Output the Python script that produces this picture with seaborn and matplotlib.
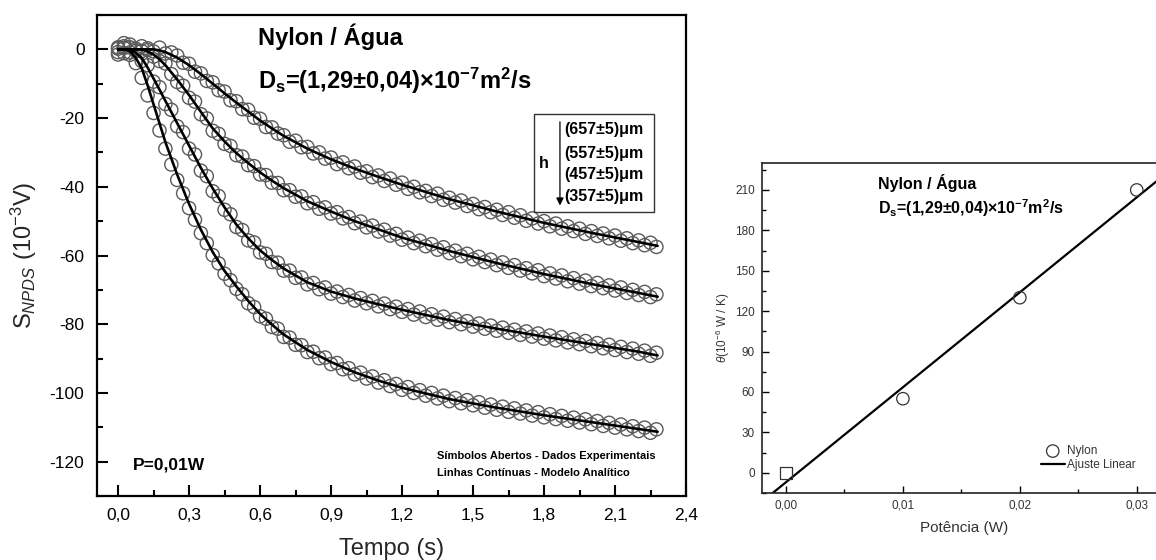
import numpy as np
import pandas as pd
import matplotlib
matplotlib.use("Agg")
import matplotlib.pyplot as plt
from matplotlib.ticker import MultipleLocator, FuncFormatter
from matplotlib.patches import Rectangle
import seaborn as sns

# ---------------- data ----------------
t_exp = np.round(np.arange(92) * 0.025, 3)

s_657 = [0.2, 1.8, 0.6, -0.4, 0.9, 0.3, -0.6, 0.5, -1.2, -0.9,
         -1.8, -3.9, -4.2, -6.5, -7.0, -9.2, -9.6, -11.9, -12.3, -14.8,
         -15.1, -17.4, -17.6, -19.9, -20.2, -22.6, -22.7, -24.5, -25.0, -26.9,
         -26.6, -28.5, -28.4, -30.3, -30.0, -31.8, -31.5, -33.4, -32.9, -34.6,
         -34.1, -35.9, -35.5, -37.2, -36.7, -38.3, -37.6, -39.4, -38.8, -40.6,
         -40.0, -41.6, -41.2, -42.7, -42.0, -43.8, -43.2, -44.6, -44.0, -45.6,
         -45.0, -46.5, -45.9, -47.4, -46.7, -48.2, -47.4, -49.0, -48.3, -49.9,
         -49.2, -50.7, -50.0, -51.5, -50.7, -52.2, -51.5, -52.9, -52.2, -53.7,
         -52.9, -54.3, -53.6, -55.0, -54.2, -55.7, -55.0, -56.4, -55.6, -57.0,
         -56.3, -57.5]
s_557 = [-0.8, 0.9, 1.4, 0.2, -0.5, -0.2, -2.1, -3.4, -4.1, -7.2,
         -9.5, -10.6, -14.1, -15.2, -18.9, -20.1, -23.7, -24.6, -27.5, -28.1,
         -30.8, -31.2, -33.7, -34.0, -36.4, -36.6, -38.8, -38.9, -41.0, -41.0,
         -42.9, -42.8, -44.8, -44.5, -46.4, -46.0, -47.8, -47.4, -49.2, -48.8,
         -50.6, -50.1, -51.8, -51.3, -53.0, -52.5, -54.2, -53.7, -55.4, -54.8,
         -56.4, -55.7, -57.3, -56.7, -58.3, -57.6, -59.3, -58.6, -60.2, -59.5,
         -61.1, -60.4, -61.9, -61.2, -62.8, -62.0, -63.6, -62.8, -64.4, -63.7,
         -65.2, -64.3, -66.0, -65.2, -66.7, -65.8, -67.5, -66.6, -68.2, -67.3,
         -68.9, -68.0, -69.5, -68.7, -70.2, -69.3, -70.9, -70.0, -71.5, -70.6,
         -72.1, -71.3]
s_457 = [-1.5, 0.4, -0.9, -0.3, -3.4, -4.6, -9.4, -11.0, -15.9, -17.6,
         -22.4, -24.1, -28.9, -30.6, -35.3, -36.9, -41.3, -42.7, -46.7, -48.0,
         -51.7, -52.6, -55.6, -56.2, -59.1, -59.5, -61.9, -62.1, -64.4, -64.4,
         -66.5, -66.4, -68.4, -68.0, -69.8, -69.3, -71.1, -70.5, -72.1, -71.5,
         -73.1, -72.4, -73.9, -73.2, -74.8, -74.0, -75.6, -74.9, -76.4, -75.6,
         -77.2, -76.3, -77.9, -77.1, -78.7, -77.8, -79.4, -78.5, -80.0, -79.1,
         -80.7, -79.8, -81.3, -80.4, -81.9, -81.0, -82.5, -81.6, -83.1, -82.1,
         -83.6, -82.7, -84.2, -83.3, -84.7, -83.8, -85.3, -84.4, -85.8, -84.9,
         -86.4, -85.5, -87.0, -86.0, -87.5, -86.6, -88.1, -87.1, -88.6, -87.7,
         -89.2, -88.3]
s_357 = [0.6, -1.1, -1.6, -4.0, -8.3, -13.4, -18.5, -23.6, -28.9, -33.5,
         -38.0, -41.9, -46.2, -49.6, -53.5, -56.4, -59.9, -62.3, -65.3, -67.2,
         -69.7, -71.3, -73.9, -75.0, -77.7, -78.4, -80.8, -81.3, -83.7, -83.9,
         -86.0, -86.1, -88.1, -88.0, -89.9, -89.7, -91.6, -91.3, -93.1, -92.8,
         -94.6, -94.1, -95.8, -95.2, -97.0, -96.3, -98.0, -97.4, -99.1, -98.3,
         -100.0, -99.2, -100.8, -100.0, -101.6, -100.8, -102.4, -101.5, -103.0, -102.1,
         -103.6, -102.7, -104.3, -103.4, -104.9, -104.0, -105.5, -104.5, -106.0, -105.1,
         -106.6, -105.6, -107.1, -106.2, -107.6, -106.7, -108.1, -107.2, -108.6, -107.7,
         -109.1, -108.2, -109.6, -108.7, -110.1, -109.2, -110.6, -109.7, -111.1, -110.1,
         -111.6, -110.6]

t_model = [0, 0.025, 0.05, 0.075, 0.1, 0.125, 0.15, 0.175, 0.2, 0.25, 0.3, 0.35,
           0.4, 0.45, 0.5, 0.55, 0.6, 0.65, 0.7, 0.8, 0.9, 1.0, 1.1, 1.2, 1.4,
           1.6, 1.8, 2.0, 2.2, 2.28]
m_657 = [0, 0, 0, 0, 0, 0, 0, -0.3, -0.8, -2.4, -4.6, -7.2, -10, -12.8, -15.5,
         -18.1, -20.7, -23, -25.2, -28.9, -32, -34.7, -37.1, -39.4, -43.6, -47.2,
         -50.5, -53.4, -56.1, -57.2]
m_557 = [0, 0, 0, 0, 0, -0.6, -1.5, -2.9, -4.6, -8.8, -13.3, -18.2, -23, -26.8,
         -30.2, -33.1, -35.8, -38.2, -40.4, -44.2, -47.2, -50, -52.4, -54.8, -58.7,
         -62.2, -65.4, -68.3, -70.9, -72.0]
m_457 = [0, 0, -0.2, -1, -2.5, -5.3, -8.5, -11.7, -15, -21.5, -28, -34.5, -40.5,
         -46, -51, -55, -58.5, -61.3, -63.8, -67.8, -70.5, -72.5, -74.2, -75.8,
         -78.8, -81.3, -83.6, -85.8, -88, -89.1]
m_357 = [0, 0, -0.5, -2.5, -5.5, -10.5, -16, -21.5, -27, -36.5, -45, -52.5, -59,
         -64.5, -69, -73.2, -77, -80.1, -83, -87.5, -91, -94, -96.4, -98.5, -101.8,
         -104.3, -106.5, -108.5, -110.5, -111.3]

thickness_labels = ["(657\u00b15)\u03bcm", "(557\u00b15)\u03bcm",
                    "(457\u00b15)\u03bcm", "(357\u00b15)\u03bcm"]

power = [0.01, 0.02, 0.03]
theta = [55, 130, 210]
power_origin = [0.0]
theta_origin = [0.0]

ds_text = "D$_\\mathbf{s}$=(1,29\u00b10,04)\u00d710$^\\mathbf{-7}$m$^\\mathbf{2}$/s"

# ---------------- style ----------------
sns.set_theme(style="white")
plt.rcParams["font.family"] = ["Liberation Sans", "DejaVu Sans"]
plt.rcParams["mathtext.fontset"] = "custom"
plt.rcParams["mathtext.rm"] = "Liberation Sans"
plt.rcParams["mathtext.it"] = "Liberation Sans:italic"
plt.rcParams["mathtext.bf"] = "Liberation Sans:bold"
plt.rcParams["axes.edgecolor"] = "black"
plt.rcParams["text.color"] = "black"
plt.rcParams["xtick.color"] = "black"
plt.rcParams["ytick.color"] = "black"

fig = plt.figure(figsize=(11.56, 5.6), dpi=100)
fig.patch.set_facecolor("white")


def fmt(dec):
    return FuncFormatter(lambda v, p: (f"{v:.{dec}f}").replace(".", ",").replace("-0,0", "0,0"))


# ---------------- left panel ----------------
axL = fig.add_axes([97 / 1156, 1 - 496 / 560, 589 / 1156, 481 / 560])

df_exp = pd.DataFrame({
    "t": np.concatenate([t_exp] * 4),
    "S": np.concatenate([s_657, s_557, s_457, s_357]),
    "h": np.repeat(thickness_labels, len(t_exp)),
})
df_mod = pd.DataFrame({
    "t": np.concatenate([t_model] * 4),
    "S": np.concatenate([m_657, m_557, m_457, m_357]),
    "h": np.repeat(thickness_labels, len(t_model)),
})

sns.scatterplot(data=df_exp, x="t", y="S", ax=axL, marker="o", s=90,
                facecolors="none", edgecolor="#5a5a5a", linewidth=1.0,
                legend=False, zorder=2)
sns.lineplot(data=df_mod, x="t", y="S", units="h", estimator=None, ax=axL,
             color="black", linewidth=1.9, legend=False, zorder=3)

axL.set_xlim(-0.089, 2.4)
axL.set_ylim(-130, 10)
axL.xaxis.set_major_locator(MultipleLocator(0.3))
axL.xaxis.set_minor_locator(MultipleLocator(0.15))
axL.yaxis.set_major_locator(MultipleLocator(20))
axL.yaxis.set_minor_locator(MultipleLocator(10))
axL.xaxis.set_major_formatter(fmt(1))
axL.yaxis.set_major_formatter(FuncFormatter(lambda v, p: f"{v:.0f}"))
axL.tick_params(which="both", direction="in", bottom=True, left=True,
                top=False, right=False, labelsize=12.5, width=1.5, pad=9)
axL.tick_params(which="major", length=8)
axL.tick_params(which="minor", length=4.5)
for sp in axL.spines.values():
    sp.set_linewidth(1.6)
    sp.set_color("black")

axL.set_xlabel("Tempo (s)", fontsize=17, va="top")
axL.xaxis.set_label_coords(0.5, -0.088)
axL.set_ylabel(r"S$_{NPDS}$ (10$^{-3}$V)", fontsize=17)
axL.yaxis.set_label_coords(-0.098, 0.5)

axL.text(0.273, 0.9376, "Nylon / \u00c1gua", transform=axL.transAxes,
         fontsize=17, fontweight="bold", va="baseline", ha="left")
axL.text(0.273, 0.846, ds_text, transform=axL.transAxes, fontsize=17,
         fontweight="bold", va="baseline", ha="left")

# legend box with thickness arrow
axL.add_patch(Rectangle((0.742, 0.590), 0.204, 0.204, transform=axL.transAxes,
                        fill=False, edgecolor="#333333", linewidth=1.0, zorder=4))
for lab, fy in zip(thickness_labels, [0.761, 0.713, 0.669, 0.622]):
    axL.text(0.794, fy, lab, transform=axL.transAxes, fontsize=11.5,
             fontweight="bold", va="center", ha="left", zorder=5)
axL.text(0.759, 0.692, "h", transform=axL.transAxes, fontsize=11.5,
         fontweight="bold", va="center", ha="center", zorder=5)
axL.annotate("", xy=(0.786, 0.604), xytext=(0.786, 0.778),
             xycoords="axes fraction", textcoords="axes fraction",
             arrowprops=dict(arrowstyle="-|>", color="black", lw=0.9,
                             mutation_scale=11, shrinkA=0, shrinkB=0))

axL.text(0.061, 0.056, "P=0,01W", transform=axL.transAxes, fontsize=12.5,
         fontweight="bold", va="baseline", ha="left")
axL.text(0.577, 0.077, "S\u00edmbolos Abertos - Dados Experimentais",
         transform=axL.transAxes, fontsize=8, fontweight="bold",
         va="baseline", ha="left")
axL.text(0.577, 0.042, "Linhas Cont\u00ednuas - Modelo Anal\u00edtico",
         transform=axL.transAxes, fontsize=8, fontweight="bold",
         va="baseline", ha="left")

# ---------------- right panel ----------------
axR = fig.add_axes([762 / 1156, 1 - 493 / 560, 404 / 1156, 330 / 560])

slope, intercept = np.polyfit(power_origin + power, theta_origin + theta, 1)
x_fit = np.array([-0.0025, 0.0335])
df_fit = pd.DataFrame({"P": x_fit, "theta": slope * x_fit + intercept})

sns.lineplot(data=df_fit, x="P", y="theta", ax=axR, color="black",
             linewidth=1.6, label="Ajuste Linear", zorder=2)
sns.scatterplot(x=power, y=theta, ax=axR, marker="o", s=80,
                facecolors="none", edgecolor="#333333", linewidth=0.9,
                label="Nylon", zorder=3)
sns.scatterplot(x=power_origin, y=theta_origin, ax=axR, marker="s", s=80,
                facecolors="none", edgecolor="#333333", linewidth=0.9,
                legend=False, zorder=3)

axR.set_xlim(-0.00205, 0.0325)
axR.set_ylim(-15, 230)
axR.xaxis.set_major_locator(MultipleLocator(0.01))
axR.xaxis.set_minor_locator(MultipleLocator(0.005))
axR.yaxis.set_major_locator(MultipleLocator(30))
axR.yaxis.set_minor_locator(MultipleLocator(15))
axR.xaxis.set_major_formatter(fmt(2))
axR.yaxis.set_major_formatter(FuncFormatter(lambda v, p: f"{v:.0f}"))
axR.tick_params(which="both", direction="in", bottom=True, left=True,
                top=False, right=False, labelsize=8.5, width=1.0, pad=5,
                labelcolor="#333333")
axR.tick_params(which="major", length=5)
axR.tick_params(which="minor", length=3)
for sp in axR.spines.values():
    sp.set_linewidth(1.2)
    sp.set_color("#222222")

axR.set_xlabel("Pot\u00eancia (W)", fontsize=11, va="top", color="#333333")
axR.xaxis.set_label_coords(0.5, -0.085)
axR.set_ylabel(r"$\theta$(10$^{-6}$ W / K)", fontsize=8.5, color="#333333")
axR.yaxis.set_label_coords(-0.075, 0.5)

axR.text(0.287, 0.921, "Nylon / \u00c1gua", transform=axR.transAxes,
         fontsize=11.5, fontweight="bold", va="baseline", ha="left")
axR.text(0.287, 0.845, ds_text, transform=axR.transAxes, fontsize=11.5,
         fontweight="bold", va="baseline", ha="left")

handles, labels = axR.get_legend_handles_labels()
order = [labels.index("Nylon"), labels.index("Ajuste Linear")]
axR.legend([handles[i] for i in order], [labels[i] for i in order],
           loc="upper left", bbox_to_anchor=(0.67, 0.17), frameon=False,
           fontsize=8.5, handlelength=2.0, handletextpad=0.2,
           labelspacing=0.15, borderpad=0.2, labelcolor="#333333")

fig.savefig("out.png", dpi=100, facecolor="white")
